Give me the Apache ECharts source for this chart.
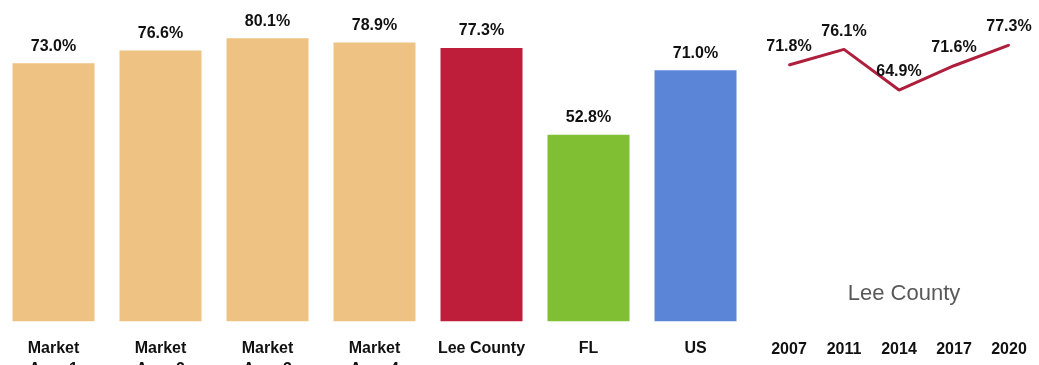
<!DOCTYPE html>
<html>
<head>
<meta charset="utf-8">
<script src="https://cdn.jsdelivr.net/npm/echarts@6/dist/echarts.min.js"></script>
<style>
  html, body { margin: 0; padding: 0; background: #fff; }
  #chart { width: 1039px; height: 365px; }
</style>
</head>
<body>
<div id="chart"></div>
<script>
// Homeownership rate by area, plus the Lee County trend over time
const categories = ['Market Area 1', 'Market Area 2', 'Market Area 3', 'Market Area 4', 'Lee County', 'FL', 'US'];
const barValues = [73.0, 76.6, 80.1, 78.9, 77.3, 52.8, 71.0];
const years = ['2007', '2011', '2014', '2017', '2020'];
const trendValues = [71.8, 76.1, 64.9, 71.6, 77.3];
const trendName = 'Lee County';

const barColors = ['#EDC283', '#EDC283', '#EDC283', '#EDC283', '#BE1E3A', '#80BF33', '#5B86D8'];
const boldText = {
  fontFamily: '"Liberation Sans", Arial, sans-serif',
  fontWeight: 'bold',
  fontSize: 16,
  color: '#111'
};
const pct = p => p.value.toFixed(1) + '%';

const chart = echarts.init(document.getElementById('chart'), null, { renderer: 'canvas' });

chart.setOption({
  animation: false,
  backgroundColor: '#fff',
  title: {
    text: trendName,
    left: 899,
    textAlign: 'center',
    top: 278,
    textStyle: {
      fontFamily: '"Liberation Sans", Arial, sans-serif',
      fontWeight: 'normal',
      fontSize: 22,
      color: '#595959'
    }
  },
  grid: [
    { left: 0, width: 749, top: 3.2, bottom: 43.7, outerBoundsMode: 'none' },
    { left: 761.5, width: 275, top: 6.2, bottom: 39.4, outerBoundsMode: 'none' }
  ],
  xAxis: [
    {
      type: 'category', gridIndex: 0, data: categories,
      axisLine: { show: false }, axisTick: { show: false },
      axisLabel: Object.assign({}, boldText, {
        interval: 0, margin: 17, lineHeight: 21,
        formatter: v => v.replace(/^Market /, 'Market\n')
      })
    },
    {
      type: 'category', gridIndex: 1, data: years,
      axisLine: { show: false }, axisTick: { show: false },
      axisLabel: Object.assign({}, boldText, { interval: 0, margin: 13, lineHeight: 21 })
    }
  ],
  yAxis: [
    { type: 'value', gridIndex: 0, min: 0, max: 90, show: false, splitLine: { show: false } },
    { type: 'value', gridIndex: 1, min: 0, max: 88, show: false, splitLine: { show: false } }
  ],
  series: [
    {
      type: 'bar', xAxisIndex: 0, yAxisIndex: 0,
      data: barValues.map((v, i) => ({ value: v, itemStyle: { color: barColors[i] } })),
      barWidth: 82,
      label: Object.assign({}, boldText, { show: true, position: 'top', distance: 9, formatter: pct })
    },
    {
      type: 'line', name: trendName, xAxisIndex: 1, yAxisIndex: 1,
      data: trendValues,
      symbol: 'circle', symbolSize: 2, showSymbol: true,
      lineStyle: { color: '#AE1F3D', width: 3 },
      itemStyle: { color: '#AE1F3D' },
      label: Object.assign({}, boldText, { show: true, position: 'top', distance: 9, formatter: pct })
    }
  ]
});
</script>
</body>
</html>
